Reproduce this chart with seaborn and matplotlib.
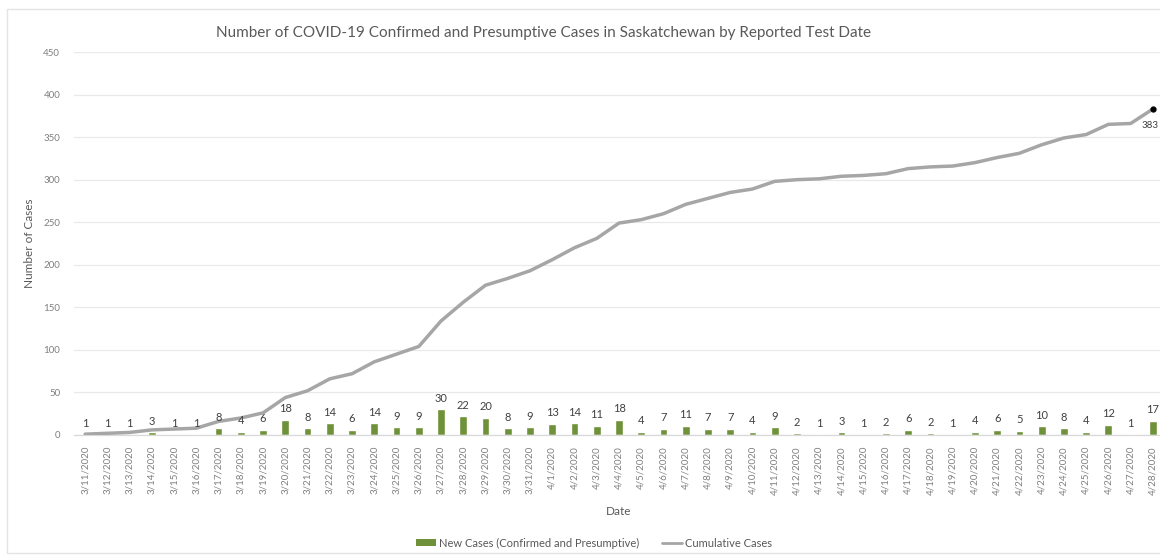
import numpy as np
import pandas as pd
import matplotlib
matplotlib.use("Agg")
import matplotlib.pyplot as plt
import seaborn as sns
from matplotlib.patches import Rectangle
from matplotlib.lines import Line2D

dates = ["3/11/2020", "3/12/2020", "3/13/2020", "3/14/2020", "3/15/2020", "3/16/2020",
         "3/17/2020", "3/18/2020", "3/19/2020", "3/20/2020", "3/21/2020", "3/22/2020",
         "3/23/2020", "3/24/2020", "3/25/2020", "3/26/2020", "3/27/2020", "3/28/2020",
         "3/29/2020", "3/30/2020", "3/31/2020", "4/1/2020", "4/2/2020", "4/3/2020",
         "4/4/2020", "4/5/2020", "4/6/2020", "4/7/2020", "4/8/2020", "4/9/2020",
         "4/10/2020", "4/11/2020", "4/12/2020", "4/13/2020", "4/14/2020", "4/15/2020",
         "4/16/2020", "4/17/2020", "4/18/2020", "4/19/2020", "4/20/2020", "4/21/2020",
         "4/22/2020", "4/23/2020", "4/24/2020", "4/25/2020", "4/26/2020", "4/27/2020",
         "4/28/2020"]
new_cases = [1, 1, 1, 3, 1, 1, 8, 4, 6, 18, 8, 14, 6, 14, 9, 9, 30, 22, 20, 8, 9,
             13, 14, 11, 18, 4, 7, 11, 7, 7, 4, 9, 2, 1, 3, 1, 2, 6, 2, 1, 4, 6, 5,
             10, 8, 4, 12, 1, 17]
cumulative = [1, 2, 3, 6, 7, 8, 16, 20, 26, 44, 52, 66, 72, 86, 95, 104, 134, 156,
              176, 184, 193, 206, 220, 231, 249, 253, 260, 271, 278, 285, 289, 298,
              300, 301, 304, 305, 307, 313, 315, 316, 320, 326, 331, 341, 349, 353,
              365, 366, 383]
y_ticks = [0, 50, 100, 150, 200, 250, 300, 350, 400, 450]

title = "Number of COVID-19 Confirmed and Presumptive Cases in Saskatchewan by Reported Test Date"
bar_name = "New Cases (Confirmed and Presumptive)"
line_name = "Cumulative Cases"

sns.set_theme(style="white")
plt.rcParams['font.family'] = ['Lato', 'DejaVu Sans']

GREEN = "#6f9139"
GRAY_LINE = "#a6a6a6"
TEXT = "#595959"

df = pd.DataFrame({"date": dates, "new": new_cases, "cum": cumulative,
                   "pos": np.arange(len(dates))})

fig = plt.figure(figsize=(11.6, 5.55), dpi=100)
fig.patch.set_facecolor("white")
# faint outer border
fig.add_artist(Rectangle((7 / 1160, 2 / 555), 1.2, 1 - 11 / 555, transform=fig.transFigure,
                         fill=False, edgecolor="#e4e4e4", linewidth=1.0))

ax = fig.add_axes([74 / 1160, 1 - 435 / 555, 1090 / 1160, (435 - 52) / 555])

sns.barplot(data=df, x="date", y="new", color=GREEN, width=0.35, ax=ax,
            saturation=1, order=dates, zorder=2)
sns.lineplot(data=df, x="pos", y="cum", color=GRAY_LINE, linewidth=2.5, ax=ax,
             zorder=3)

ax.bar_label(ax.containers[0], labels=[str(v) for v in new_cases], padding=4,
             fontsize=8, color="#404040")

# last point marker and label
ax.plot([df["pos"].iloc[-1]], [cumulative[-1]], marker="o", color="black",
        markersize=3.5, zorder=4)
ax.annotate(str(cumulative[-1]), (df["pos"].iloc[-1], cumulative[-1]),
            xytext=(-8, -12), textcoords="offset points", fontsize=7,
            color="#404040", ha="left", va="center", annotation_clip=False)

ax.set_xlim(-0.5, len(dates) - 0.5)
ax.set_ylim(0, 450)
ax.set_yticks(y_ticks)
ax.set_yticklabels([str(t) for t in y_ticks], fontsize=7, color="#7f7f7f")
ax.tick_params(axis="y", length=0, pad=10)
ax.set_xticks(np.arange(len(dates)))
ax.set_xticklabels(dates, rotation=90, fontsize=7, color="#7f7f7f")
ax.tick_params(axis="x", length=0, pad=8)
ax.grid(axis="y", color="#e9e9e9", linewidth=0.9, zorder=0)
ax.set_axisbelow(True)
for s in ["top", "right", "left"]:
    ax.spines[s].set_visible(False)
ax.spines["bottom"].set_color("#d9d9d9")
ax.spines["bottom"].set_linewidth(0.9)

ax.set_xlabel("Date", fontsize=8.5, color=TEXT, labelpad=8)
ax.set_ylabel("Number of Cases", fontsize=8.5, color=TEXT, labelpad=6)

fig.text(543 / 1160, 1 - 33 / 555, title, ha="center", va="center",
         fontsize=11, color=TEXT)

handles = [Rectangle((0, 0), 1, 1, facecolor=GREEN, edgecolor="none"),
           Line2D([0], [0], color=GRAY_LINE, linewidth=2)]
fig.legend(handles, [bar_name, line_name], loc="center", ncol=2,
           bbox_to_anchor=(594 / 1160, 1 - 543 / 555), frameon=False,
           fontsize=8, labelcolor=TEXT, handlelength=1.8, handleheight=0.5,
           handletextpad=0.3, columnspacing=2.0)

fig.savefig("out.png", dpi=100, facecolor="white")
